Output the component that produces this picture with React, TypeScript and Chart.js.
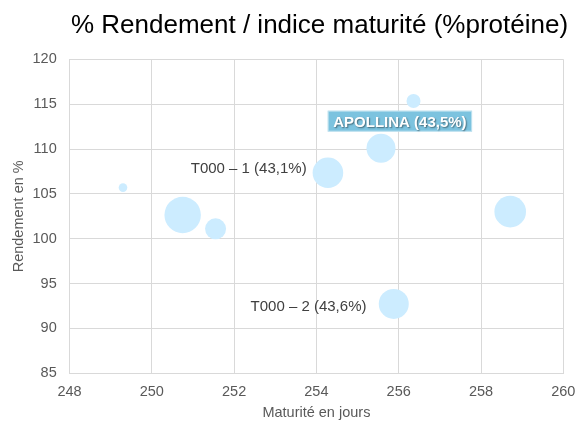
import React, { useEffect, useRef } from "react";
import { Chart, registerables } from "chart.js";

Chart.register(...registerables);

const TITLE = "% Rendement / indice maturité (%protéine)";
const X_TITLE = "Maturité en jours";
const Y_TITLE = "Rendement en %";

const maturityDays = [249.3, 250.75, 251.55, 254.28, 255.57, 256.36, 255.88, 258.71];
const yieldPct = [105.7, 102.65, 101.1, 107.36, 110.08, 115.36, 92.73, 103.02];
const bubbleSize = [4.3, 18.2, 10.5, 15.3, 14.5, 7, 15, 15.8];
const pointLabels = ["", "", "", "T000 – 1 (43,1%)", "APOLLINA (43,5%)", "", "T000 – 2 (43,6%)", ""];

const FONT = "'Liberation Sans', Arial, sans-serif";

// label placement relative to the bubble it describes
const LABEL_PLACEMENT: Record<number, { dx: number; dy: number; align: CanvasTextAlign; boxed: boolean }> = {
  3: { dx: -21.3, dy: 0.8, align: "right", boxed: false },
  4: { dx: 18.9, dy: -21.6, align: "center", boxed: true },
  6: { dx: -27.3, dy: 6.7, align: "right", boxed: false },
};

const titlePlugin = {
  id: "customTitle",
  afterDraw(chart: any) {
    const ctx = chart.ctx;
    ctx.save();
    ctx.font = `26px ${FONT}`;
    ctx.fillStyle = "#000000";
    ctx.textAlign = "center";
    ctx.textBaseline = "alphabetic";
    ctx.fillText(TITLE, 319.5, 33.3);
    ctx.restore();
  },
};

const labelPlugin = {
  id: "pointLabels",
  afterDatasetsDraw(chart: any) {
    const ctx = chart.ctx;
    const meta = chart.getDatasetMeta(0);
    ctx.save();
    pointLabels.forEach((text, i) => {
      if (!text) return;
      const el = meta.data[i];
      const p = LABEL_PLACEMENT[i];
      if (!el || !p) return;
      const x = el.x + p.dx;
      const y = el.y + p.dy;
      if (p.boxed) {
        ctx.font = `bold 15px ${FONT}`;
        const w = ctx.measureText(text).width;
        const bx = x - w / 2 - 5.5;
        const bw = w + 11;
        ctx.fillStyle = "#7cc3df";
        ctx.fillRect(bx, y - 16, bw, 21);
        ctx.strokeStyle = "rgba(255,255,255,0.5)";
        ctx.lineWidth = 1;
        ctx.strokeRect(bx + 0.5, y - 15.5, bw - 1, 20);
        ctx.textAlign = "center";
        ctx.textBaseline = "alphabetic";
        ctx.shadowColor = "rgba(0,0,0,0.45)";
        ctx.shadowOffsetX = 1;
        ctx.shadowOffsetY = 1;
        ctx.shadowBlur = 1.5;
        ctx.fillStyle = "#ffffff";
        ctx.fillText(text, x, y);
        ctx.shadowColor = "transparent";
      } else {
        ctx.font = `15px ${FONT}`;
        ctx.fillStyle = "#404040";
        ctx.textAlign = p.align;
        ctx.textBaseline = "alphabetic";
        ctx.fillText(text, x, y);
      }
    });
    ctx.restore();
  },
};

export default function App() {
  const canvasRef = useRef<HTMLCanvasElement | null>(null);

  useEffect(() => {
    if (!canvasRef.current) return;
    const data = maturityDays.map((x, i) => ({ x, y: yieldPct[i], r: bubbleSize[i] }));
    const chart = new Chart(canvasRef.current, {
      type: "bubble",
      data: {
        datasets: [
          {
            data,
            backgroundColor: "rgb(204,236,255)",
            borderWidth: 0,
            borderColor: "rgba(0,0,0,0)",
          },
        ],
      },
      options: {
        responsive: false,
        animation: false,
        layout: { autoPadding: false, padding: { top: 59.3, right: 15.7, left: 0, bottom: 0 } },
        plugins: {
          legend: { display: false },
          title: { display: false },
          tooltip: { enabled: false },
        },
        scales: {
          x: {
            type: "linear",
            min: 248,
            max: 260,
            ticks: {
              stepSize: 2,
              color: "#595959",
              font: { family: FONT, size: 14.5 },
              padding: 10,
            },
            grid: { color: "#d9d9d9", drawTicks: false, lineWidth: 1 },
            border: { color: "#d9d9d9" },
            title: {
              display: true,
              text: X_TITLE,
              color: "#595959",
              font: { family: FONT, size: 14.5 },
              padding: { top: 0, bottom: 0 },
            },
            afterFit(scale: any) {
              scale.height = 48.7;
              scale.paddingLeft = 0;
              scale.paddingRight = 0;
            },
          },
          y: {
            type: "linear",
            min: 85,
            max: 120,
            ticks: {
              stepSize: 5,
              color: "#595959",
              font: { family: FONT, size: 14.5 },
              padding: 12.8,
            },
            grid: { color: "#d9d9d9", drawTicks: false, lineWidth: 1 },
            border: { color: "#d9d9d9" },
            title: {
              display: true,
              text: Y_TITLE,
              color: "#595959",
              font: { family: FONT, size: 14.5 },
              padding: { top: 10.3, bottom: 0 },
            },
            afterFit(scale: any) {
              scale.width = 69.5;
              scale.paddingTop = 0;
              scale.paddingBottom = 0;
            },
          },
        },
      },
      plugins: [titlePlugin, labelPlugin],
    } as any);
    return () => chart.destroy();
  }, []);

  return (
    <div style={{ position: "absolute", left: 0, top: 0, width: 579, height: 422, background: "#ffffff" }}>
      <canvas ref={canvasRef} width={579} height={422} style={{ width: 579, height: 422 }} />
    </div>
  );
}
